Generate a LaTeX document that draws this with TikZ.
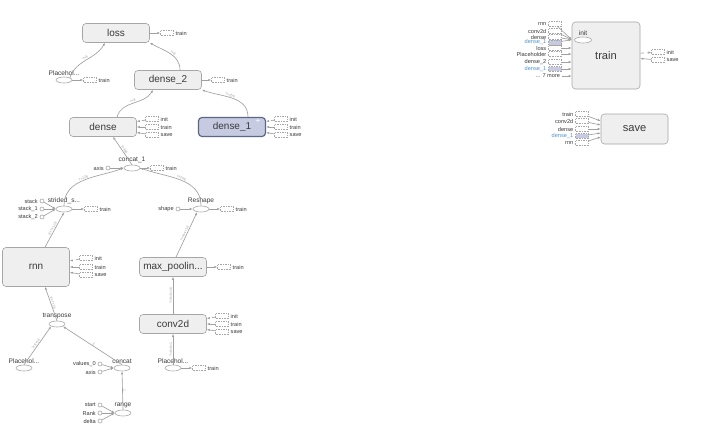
\documentclass[tikz,border=0pt]{standalone}
\usepackage{fontspec}
\setmainfont{Liberation Sans}
\usetikzlibrary{arrows.meta,positioning,calc,shapes.geometric}
\definecolor{opfill}{HTML}{EFEFEF}
\definecolor{opline}{HTML}{A6A6A6}
\definecolor{varfill}{HTML}{C6CBE2}
\definecolor{varline}{HTML}{5D6685}
\definecolor{edgecol}{HTML}{A0A0A0}
\definecolor{txtcol}{HTML}{3A3A3A}
\definecolor{linkcol}{HTML}{4F94D4}

\begin{document}
\begin{tikzpicture}[x=0.03cm,y=-0.03cm,
  grp/.style={draw=opline,fill=opfill,rounded corners=3pt,line width=0.5pt,
              minimum width=2.01cm,minimum height=0.57cm,inner sep=0pt,
              font=\fontsize{8.5}{10}\selectfont,text=txtcol},
  op/.style={ellipse,draw=opline,fill=white,line width=0.5pt,
             minimum width=0.48cm,minimum height=0.18cm,inner sep=0pt},
  cst/.style={circle,draw=opline,fill=white,line width=0.5pt,
              minimum size=0.12cm,inner sep=0pt},
  tagbox/.style={draw=opline,densely dotted,fill=white,
                 minimum width=0.39cm,minimum height=0.14cm,inner sep=0pt},
  lbl/.style={font=\fontsize{4.8}{5}\selectfont,text=txtcol,inner sep=1.5pt},
  optxt/.style={font=\fontsize{5.6}{6}\selectfont,text=txtcol,inner sep=1pt},
  ar/.style={-{Latex[length=0.9mm,width=0.7mm]},draw=edgecol,line width=0.55pt},
  dim/.style={font=\fontsize{3}{3}\selectfont,text=edgecol,sloped,above,inner sep=0.5pt},
]
\path[fill=white,use as bounding box] (0,0) rectangle (720,447);

% output side
\node[grp] (loss) at (116,33) {loss};
\node[tagbox,label={[lbl]right:train}] (lossT) at (167,33) {};
\node[op,label={[optxt]above:Placehol...}] (ph1) at (64,80) {};
\node[tagbox,label={[lbl]right:train}] (ph1T) at (90,80) {};
\node[grp] (dense2) at (168,80) {dense\_2};
\node[tagbox,label={[lbl]right:train}] (dense2T) at (218,80) {};
\node[grp] (dense) at (103,127) {dense};
\node[tagbox,label={[lbl]right:init}] (denseI) at (152,119) {};
\node[tagbox,label={[lbl]right:train}] (denseTr) at (152,127) {};
\node[tagbox,label={[lbl]right:save}] (denseS) at (152,135) {};
\node[grp,fill=varfill,draw=varline,line width=1pt] (dense1) at (232,127) {dense\_1};
\node[font=\fontsize{7}{7}\selectfont,text=white,inner sep=0pt] (dense1P) at (258,121) {+};
\node[tagbox,label={[lbl]right:init}] (dense1I) at (281,119) {};
\node[tagbox,label={[lbl]right:train}] (dense1Tr) at (281,127) {};
\node[tagbox,label={[lbl]right:save}] (dense1S) at (281,135) {};

\draw[ar] (ph1.north east) to[out=70,in=-120] node[dim]{?×8} ($(loss.south)+(-11,0)$);
\draw[ar] ($(dense2.north)+(12,0)$) to[out=90,in=-30] node[dim,pos=0.45]{?×8} (loss.south east);
\draw[ar] ($(dense.north)+(14,0)$) to[out=75,in=-120] node[dim]{?×8} ($(dense2.south)+(-15,0)$);
\draw[ar] ($(dense1.north)+(16,0)$) to[out=90,in=-20] node[dim,pos=0.55]{?×256} (dense2.south east);
\draw[ar] (loss) -- (lossT);
\draw[ar] (ph1) -- (ph1T);
\draw[ar] (dense2) -- (dense2T);
\draw[ar,dashed] (denseI) -- (dense);
\draw[ar] (denseTr) -- (dense);
\draw[ar] (denseS) -- (dense);
\draw[ar,dashed] (dense1I) -- (dense1);
\draw[ar] (dense1Tr) -- (dense1);
\draw[ar] (dense1S) -- (dense1);

% merge of the two branches
\node[op,label={[optxt]above:concat\_1}] (concat1) at (132,168) {};
\node[cst,label={[lbl]left:axis}] (axis1) at (108,168) {};
\node[tagbox,label={[lbl]right:train}] (concat1T) at (157,168) {};
\node[op,label={[optxt]above:strided\_s...}] (strided) at (64,209) {};
\node[cst,label={[lbl]left:stack}] (stack0) at (42,201) {};
\node[cst,label={[lbl]left:stack\_1}] (stack1) at (42,209) {};
\node[cst,label={[lbl]left:stack\_2}] (stack2) at (42,217) {};
\node[tagbox,label={[lbl]right:train}] (stridedT) at (91,209) {};
\node[op,label={[optxt]above:Reshape}] (reshape) at (201,209) {};
\node[cst,label={[lbl]left:shape}] (shape) at (178,209) {};
\node[tagbox,label={[lbl]right:train}] (reshapeT) at (227,209) {};

\draw[ar] (concat1.north) -- node[dim]{?×384} ($(dense.south)+(10,0)$);
\draw[ar] (axis1) -- (concat1);
\draw[ar] (concat1) -- (concat1T);
\draw[ar] (strided.north) to[out=90,in=-160] node[dim]{?×128} (concat1.west);
\draw[ar] (reshape.north) to[out=90,in=-20] node[dim,swap]{?×256} (concat1.east);
\draw[ar] (stack0) -- (strided.west);
\draw[ar] (stack1) -- (strided.west);
\draw[ar] (stack2) -- (strided.west);
\draw[ar] (strided) -- (stridedT);
\draw[ar] (shape) -- (reshape);
\draw[ar] (reshape) -- (reshapeT);

% rnn branch
\node[grp,minimum height=1.17cm] (rnn) at (36,267) {rnn};
\node[tagbox,label={[lbl]right:init}] (rnnI) at (86,258) {};
\node[tagbox,label={[lbl]right:train}] (rnnTr) at (86,267) {};
\node[tagbox,label={[lbl]right:save}] (rnnS) at (86,275) {};
\node[op,label={[optxt]above:transpose}] (transpose) at (57,324) {};
\node[op,label={[optxt]above:Placehol...}] (ph2) at (24,368) {};
\node[op,label={[optxt]above:concat}] (concat) at (122,368) {};
\node[cst,label={[lbl]left:values\_0}] (values0) at (100,364) {};
\node[cst,label={[lbl]left:axis}] (axis2) at (100,372) {};
\node[op,label={[optxt]above:range}] (range) at (123,413) {};
\node[cst,label={[lbl]left:start}] (start) at (100,405) {};
\node[cst,label={[lbl]left:Rank}] (rank) at (100,413) {};
\node[cst,label={[lbl]left:delta}] (delta) at (100,421) {};

\draw[ar] ($(rnn.north)+(9,0)$) -- node[dim]{8×?×128} (strided.south);
\draw[ar,dashed] (rnnI) -- (rnn);
\draw[ar] (rnnTr) -- (rnn);
\draw[ar] (rnnS) -- (rnn);
\draw[ar] (transpose.north) -- node[dim,swap]{8×?×16} ($(rnn.south)+(9,0)$);
\draw[ar] (ph2.north) -- node[dim]{?×8×16} (transpose.south west);
\draw[ar] (concat.north) -- node[dim,swap]{3} (transpose.south east);
\draw[ar] (values0) -- (concat.west);
\draw[ar] (axis2) -- (concat.west);
\draw[ar] (range.north) -- node[dim,swap]{1} (concat.south);
\draw[ar] (start) -- (range.west);
\draw[ar] (rank) -- (range.west);
\draw[ar] (delta) -- (range.west);

% conv branch
\node[grp] (maxpool) at (173,267) {max\_poolin...};
\node[tagbox,label={[lbl]right:train}] (maxpoolT) at (224,267) {};
\node[grp] (conv2d) at (173,324) {conv2d};
\node[tagbox,label={[lbl]right:init}] (conv2dI) at (222,316) {};
\node[tagbox,label={[lbl]right:train}] (conv2dTr) at (222,324) {};
\node[tagbox,label={[lbl]right:save}] (conv2dS) at (222,332) {};
\node[op,label={[optxt]above:Placehol...}] (ph3) at (173,368) {};
\node[tagbox,label={[lbl]right:train}] (ph3T) at (199,368) {};

\draw[ar] ($(maxpool.north)+(3,0)$) -- node[dim]{?×4×4×16} ($(reshape.south)+(-4,0)$);
\draw[ar] (maxpool) -- (maxpoolT);
\draw[ar] (conv2d) -- node[dim]{?×8×8×16} (maxpool);
\draw[ar,dashed] (conv2dI) -- (conv2d);
\draw[ar] (conv2dTr) -- (conv2d);
\draw[ar] (conv2dS) -- (conv2d);
\draw[ar] (ph3) -- node[dim]{?×8×8×1} (conv2d);
\draw[ar] (ph3) -- (ph3T);

% train and save groups
\node[grp,minimum width=2.04cm,minimum height=2.01cm,
      font=\fontsize{9.5}{11}\selectfont] (trainbox) at (606,55.5) {train};
\node[op,minimum width=0.51cm,label={[optxt]above:init}] (trainInit) at (583,40) {};
\coordinate (trIn) at ($(trainbox.north west)+(0,18)$);
\node[tagbox,label={[lbl]left:rnn}] (trRnn) at (555,24) {};
\node[tagbox,label={[lbl]left:conv2d}] (trConv) at (555,31) {};
\node[tagbox,label={[lbl]left:dense}] (trDense) at (555,37) {};
\node[tagbox,fill=varfill,label={[lbl,text=linkcol]left:dense\_1}] (trDenseA) at (555,42.5) {};
\node[tagbox,label={[lbl]left:loss}] (trLoss) at (555,48) {};
\node[tagbox,label={[lbl]left:Placeholder}] (trPh) at (555,54) {};
\node[tagbox,label={[lbl]left:dense\_2}] (trDense2) at (555,62) {};
\node[tagbox,fill=varfill,label={[lbl,text=linkcol]left:dense\_1}] (trDenseB) at (555,69) {};
\node[lbl,anchor=east] (trMore) at (562,76) {... 7 more};
\node[tagbox,label={[lbl]right:init}] (trOutI) at (658,52) {};
\node[tagbox,label={[lbl]right:save}] (trOutS) at (658,60) {};

\draw[ar] (trRnn) -- (trIn);
\draw[ar] (trConv) -- (trIn);
\draw[ar] (trDense) -- (trIn);
\draw[ar] (trDenseA) -- (trIn);
\draw[ar] (trLoss) -- (trLoss -| trainbox.west);
\draw[ar] (trPh) -- (trPh -| trainbox.west);
\draw[ar] (trDense2) -- (trDense2 -| trainbox.west);
\draw[ar] (trDenseB) -- (trDenseB -| trainbox.west);
\draw[ar] (trMore) -- (trMore -| trainbox.west);
\draw[ar,dashed] (trainbox) -- (trOutI);
\draw[ar] (trOutS) -- (trainbox);

\node[grp,minimum height=0.9cm,font=\fontsize{9.5}{11}\selectfont] (save) at (634.5,129) {save};
\node[tagbox,label={[lbl]left:train}] (svTrain) at (582,114) {};
\node[tagbox,label={[lbl]left:conv2d}] (svConv) at (582,121) {};
\node[tagbox,label={[lbl]left:dense}] (svDense) at (582,129) {};
\node[tagbox,fill=varfill,label={[lbl,text=linkcol]left:dense\_1}] (svDense1) at (582,136) {};
\node[tagbox,label={[lbl]left:rnn}] (svRnn) at (582,143) {};

\draw[ar] (svTrain) -- ($(save.west)+(0,-8)$);
\draw[ar] (svConv) -- ($(save.west)+(0,-4)$);
\draw[ar] (svDense) -- (save.west);
\draw[ar] (svDense1) -- ($(save.west)+(0,4)$);
\draw[ar] (svRnn) -- ($(save.west)+(0,8)$);
\end{tikzpicture}
\end{document}
